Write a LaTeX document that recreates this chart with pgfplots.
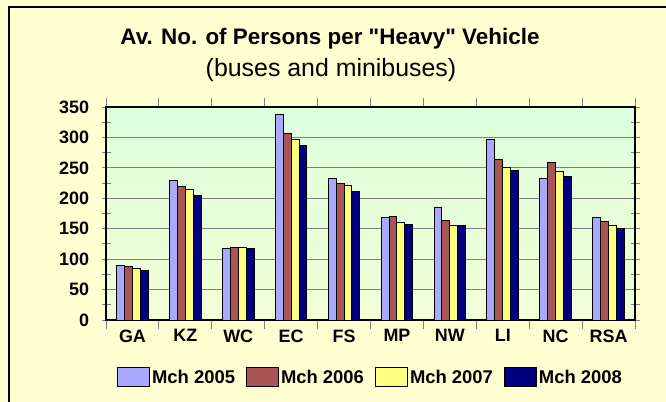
\documentclass[border=0pt]{standalone}
\usepackage{pgfplots}
\pgfplotsset{compat=1.18}
\usepackage{fontspec}
\setmainfont{Liberation Sans}[Ligatures=TeXOff]
\definecolor{cA}{HTML}{A9A9FF}
\definecolor{cB}{HTML}{AA5555}
\definecolor{cC}{HTML}{FFFF80}
\definecolor{cD}{HTML}{000080}
\definecolor{bgY}{HTML}{FFFFD2}
\definecolor{bgG}{HTML}{D6FFDC}
\definecolor{paT}{HTML}{DCFFDC}
\definecolor{paB}{HTML}{F2FFD6}
\definecolor{gridc}{HTML}{808080}
\begin{document}
\begin{tikzpicture}[x=1bp,y=1bp]
\useasboundingbox (0,0) rectangle (666,401);
\shade[top color=bgY, middle color=bgG, bottom color=bgY] (0,0) rectangle (666,401);
\draw[line width=2.5bp] (9,-2) -- (9,394) -- (668,394);
\node[font=\bfseries\fontsize{22.5}{26}\selectfont] at (330,362) {Av. No. of Persons per "Heavy" Vehicle};
\node[font=\fontsize{25}{29}\selectfont] at (331,331) {(buses and minibuses)};
\begin{axis}[
  at={(106bp,81bp)}, anchor=south west,
  scale only axis, width=529bp, height=213bp,
  xmin=-0.5, xmax=9.5, ymin=0, ymax=350,
  xtick={-0.5,0.5,...,9.5},
  xticklabels={GA,KZ,WC,EC,FS,MP,NW,LI,NC,RSA},
  x tick label as interval,
  ytick={0,50,...,350},
  minor y tick num=1,
  tick align=center,
  major tick length=9bp, minor tick length=9bp,
  tick style={gridc, line width=1bp},
  ymajorgrids, grid style={gridc, line width=1bp},
  axis line style={black, line width=1.2bp},
  axis background/.style={shade, top color=paT, bottom color=paB},
  ticklabel style={font=\bfseries\fontsize{18}{20}\selectfont},
  /pgf/number format/assume math mode=true,
  yticklabel style={xshift=-9bp},
  xticklabel style={yshift=3bp},
  ybar=0pt, bar width=7.9bp,
  every axis plot/.append style={draw=black, line width=1bp},
  legend style={at={(0.5,-0.268)}, anchor=center, draw=none, fill=none,
    legend columns=4, font=\bfseries\fontsize{18.5}{20}\selectfont,
    /tikz/every even column/.append style={column sep=9bp}},
  legend image code/.code={\draw[#1,line width=1bp] (0bp,-9bp) rectangle (32bp,10bp);},
]
\addplot[fill=cA] coordinates {(0,89) (1,230) (2,118) (3,337) (4,232) (5,169) (6,185) (7,297) (8,232) (9,169)};
\addplot[fill=cB] coordinates {(0,88) (1,220) (2,119) (3,306) (4,225) (5,170) (6,164) (7,264) (8,258) (9,162)};
\addplot[fill=cC] coordinates {(0,84) (1,215) (2,119) (3,297) (4,221) (5,161) (6,155) (7,251) (8,244) (9,155)};
\addplot[fill=cD] coordinates {(0,81) (1,205) (2,118) (3,286) (4,211) (5,157) (6,155) (7,246) (8,236) (9,150)};
\legend{Mch 2005,Mch 2006,Mch 2007,Mch 2008}
\end{axis}
\end{tikzpicture}
\end{document}
